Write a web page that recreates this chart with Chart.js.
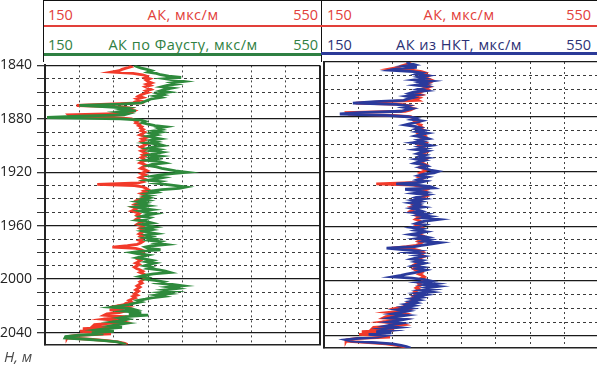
<!DOCTYPE html>
<html>
<head>
<meta charset="utf-8">
<script src="https://cdn.jsdelivr.net/npm/chart.js@4.4.1/dist/chart.umd.min.js"></script>
<style>
  body { margin: 0; width: 597px; height: 365px; overflow: hidden; background: #fff; position: relative; font-family: "Open Sans", sans-serif; }
  .hdr { position: absolute; top: 0; height: 62px; border-top: 1px solid #111; box-sizing: border-box; }
  .hdr .row { position: absolute; left: 4px; right: 3px; height: 22px; line-height: 22px; display: flex; justify-content: space-between; font-size: 14.5px; }
  .hdr .title { letter-spacing: 0.5px; }
  .hdr .rule { position: absolute; left: 0; right: 0; }
  .red { color: #e2403a; }
  .green { color: #2f8042; }
  .navy { color: #2b3175; }
  canvas { position: absolute; }
  #depthUnit { position: absolute; left: 4px; top: 346px; font-size: 15px; font-style: italic; color: #4a4a4a; }
</style>
</head>
<body>
<div class="hdr" style="left:43px;width:279px;border-left:1px solid #111;border-right:1px solid #111;">
  <div class="row red" style="top:3px"><span>150</span><span class="title">АК, мкс/м</span><span>550</span></div>
  <div class="rule" style="top:24px;height:2px;background:#e2403a"></div>
  <div class="row green" style="top:33px"><span>150</span><span class="title">АК по Фаусту, мкс/м</span><span>550</span></div>
  <div class="rule" style="top:52px;height:3px;background:#2f8042"></div>
</div>
<div class="hdr" style="left:321px;width:276px;">
  <div class="row red" style="top:3px;left:6px;right:6px"><span>150</span><span class="title">АК, мкс/м</span><span>550</span></div>
  <div class="rule" style="top:24px;height:2px;background:#e2403a"></div>
  <div class="row navy" style="top:33px;left:6px;right:6px"><span>150</span><span class="title">АК из НКТ, мкс/м</span><span>550</span></div>
  <div class="rule" style="top:51px;height:3px;background:#2b3a98"></div>
</div>
<canvas id="leftTrack" width="322" height="306" style="left:0;top:52px"></canvas>
<canvas id="rightTrack" width="279" height="306" style="left:322px;top:52px"></canvas>
<div id="depthUnit">H, м</div>
<script>
const DEPTH_TOP = 1840;
const DEPTH_BOTTOM = 2049;
const depthLabels = [1840, 1880, 1920, 1960, 2000, 2040];
const X_MIN = 150;
const X_MAX = 550;

// AK, one value per metre from 1840 m
const akValues = [
  272, 275, 268, 262, 258, 247, 278, 292, 298, 295,
  302, 297, 300, 305, 298, 303, 296, 300, 304, 297,
  301, 295, 290, 286, 292, 284, 289, 283, 287, 240,
  196, 262, 275, 270, 280, 276, 268, 184, 186, 250,
  276, 280, 284, 282, 288, 286, 291, 289, 293, 290,
  295, 292, 288, 294, 297, 291, 295, 290, 293, 298,
  294, 289, 293, 296, 290, 294, 298, 292, 295, 290,
  293, 297, 291, 288, 294, 298, 292, 289, 295, 299,
  294, 290, 296, 292, 288, 294, 290, 293, 286, 226,
  280, 292, 297, 300, 294, 298, 290, 295, 299, 293,
  288, 284, 290, 286, 281, 287, 278, 284, 280, 276,
  283, 287, 284, 290, 286, 283, 289, 292, 287, 284,
  290, 293, 288, 292, 295, 290, 287, 293, 289, 294,
  291, 287, 292, 289, 284, 270, 248, 282, 290, 294,
  289, 293, 296, 291, 288, 285, 289, 286, 282, 287,
  284, 280, 283, 288, 292, 288, 293, 296, 292, 297,
  294, 291, 288, 291, 287, 284, 288, 285, 282, 286,
  283, 280, 284, 278, 281, 276, 272, 275, 268, 265,
  255, 270, 262, 244, 266, 258, 240, 236, 262, 250,
  235, 258, 266, 248, 222, 220, 252, 205, 240, 201,
  230, 246, 198, 183, 182, 215, 240, 256, 266, 270
];

// AK по Фаусту
const faustValues = [
  280, 284, 290, 298, 305, 300, 312, 318, 330, 348,
  325, 338, 352, 335, 342, 328, 320, 335, 325, 318,
  330, 315, 322, 310, 318, 305, 300, 295, 290, 260,
  200, 240, 270, 262, 282, 258, 272, 265, 200, 153,
  260, 290, 296, 292, 300, 310, 326, 315, 320, 308,
  318, 305, 312, 300, 308, 318, 305, 312, 298, 315,
  322, 308, 300, 315, 305, 320, 310, 302, 318, 305,
  312, 298, 316, 324, 306, 300, 312, 320, 330, 340,
  356, 335, 318, 306, 322, 312, 300, 318, 310, 325,
  340, 355, 345, 320, 305, 312, 298, 305, 295, 302,
  292, 300, 285, 296, 288, 300, 282, 292, 305, 288,
  296, 310, 298, 290, 302, 296, 285, 298, 306, 292,
  300, 310, 296, 305, 292, 300, 312, 298, 305, 296,
  310, 302, 318, 312, 326, 306, 296, 300, 318, 290,
  276, 286, 300, 292, 284, 296, 306, 298, 310, 302,
  295, 305, 300, 316, 325, 332, 308, 296, 288, 300,
  296, 310, 322, 315, 335, 350, 330, 342, 325, 338,
  318, 330, 312, 322, 305, 296, 285, 290, 280, 272,
  260, 247, 275, 282, 266, 290, 272, 300, 268, 258,
  270, 262, 248, 268, 255, 245, 262, 238, 225, 250,
  218, 235, 200, 180, 179, 210, 236, 255, 262, 268
];

// AK из НКТ
const nktValues = [
  270, 275, 282, 268, 285, 255, 246, 280, 292, 285,
  300, 288, 296, 282, 305, 290, 298, 284, 300, 292,
  286, 298, 280, 274, 285, 270, 280, 272, 266, 225,
  192, 255, 272, 265, 278, 270, 262, 200, 173, 240,
  272, 284, 278, 292, 285, 276, 268, 282, 290, 284,
  295, 286, 300, 290, 283, 296, 302, 288, 294, 280,
  296, 305, 290, 298, 284, 300, 292, 286, 297, 290,
  300, 285, 296, 288, 282, 295, 300, 290, 298, 305,
  316, 310, 295, 288, 300, 292, 286, 298, 290, 255,
  285, 305, 310, 268, 285, 296, 282, 300, 290, 284,
  295, 280, 290, 276, 288, 282, 294, 278, 286, 292,
  280, 298, 288, 305, 295, 316, 300, 290, 284, 296,
  288, 278, 292, 284, 298, 288, 276, 290, 300, 286,
  304, 296, 318, 305, 292, 280, 241, 260, 285, 272,
  290, 282, 295, 286, 278, 292, 284, 296, 288, 280,
  294, 286, 298, 290, 282, 270, 262, 250, 278, 296,
  305, 290, 312, 298, 316, 300, 310, 292, 306, 286,
  298, 284, 292, 278, 288, 276, 284, 270, 280, 266,
  276, 258, 272, 262, 250, 270, 256, 246, 268, 258,
  244, 262, 250, 240, 258, 236, 250, 226, 248, 215,
  238, 228, 200, 182, 190, 225, 250, 262, 270, 276
];

function toPoints(values) {
  return values.map((v, i) => ({ x: v, y: DEPTH_TOP + i }));
}

function isSolidDepth(value) {
  return value % 40 === 0;
}

function lineDataset(values, color) {
  return {
    data: toPoints(values),
    showLine: true,
    borderColor: color,
    backgroundColor: color,
    borderWidth: 2.8,
    pointRadius: 0,
    tension: 0,
  };
}

function trackOptions(withLabels) {
  return {
    responsive: false,
    animation: false,
    layout: { padding: { top: 10, bottom: 10, right: 2, left: 0 } },
    plugins: { legend: { display: false }, tooltip: { enabled: false } },
    scales: {
      x: {
        type: "linear",
        position: "bottom",
        min: X_MIN,
        max: X_MAX,
        ticks: { display: false, stepSize: 50 },
        grid: {
          drawTicks: false,
          color: (ctx) => {
            const v = ctx.tick ? ctx.tick.value : 0;
            if (v === X_MIN) return "rgba(0,0,0,0)";
            if (v === X_MAX) return withLabels ? "#222" : "rgba(0,0,0,0)";
            return "#444";
          },
          lineWidth: (ctx) => (ctx.tick && ctx.tick.value === X_MAX ? 2 : 1),
        },
        border: {
          display: true,
          color: "#222",
          width: 1.5,
          dash: (ctx) => (ctx.tick && ctx.tick.value !== X_MIN && ctx.tick.value !== X_MAX ? [2, 3] : []),
        },
      },
      y: {
        type: "linear",
        reverse: true,
        min: DEPTH_TOP,
        max: DEPTH_BOTTOM,
        afterFit: (scale) => { scale.width = withLabels ? 45 : 2; },
        ticks: {
          display: withLabels,
          stepSize: 10,
          includeBounds: false,
          autoSkip: false,
          padding: 5,
          color: "#222",
          font: { family: "Open Sans", size: 14 },
          callback: (value) => (depthLabels.includes(value) ? String(value) : ""),
        },
        grid: {
          drawTicks: withLabels,
          tickLength: 8,
          tickColor: "#333",
          color: (ctx) => (ctx.tick && isSolidDepth(ctx.tick.value) ? "#1a1a1a" : "#3a3a3a"),
          lineWidth: (ctx) => (ctx.tick && isSolidDepth(ctx.tick.value) ? 1.3 : 1),
        },
        border: {
          display: true,
          color: "#222",
          width: 2,
          dash: (ctx) => (ctx.tick && !isSolidDepth(ctx.tick.value) ? [3, 3] : []),
        },
      },
    },
  };
}

new Chart(document.getElementById("leftTrack"), {
  type: "scatter",
  data: {
    datasets: [
      lineDataset(faustValues, "#2e8a3c"),
      lineDataset(akValues, "#f23a2a"),
    ],
  },
  options: trackOptions(true),
});

new Chart(document.getElementById("rightTrack"), {
  type: "scatter",
  data: {
    datasets: [
      lineDataset(nktValues, "#2a3a9c"),
      lineDataset(akValues, "#f23a2a"),
    ],
  },
  options: trackOptions(false),
});
</script>
</body>
</html>
